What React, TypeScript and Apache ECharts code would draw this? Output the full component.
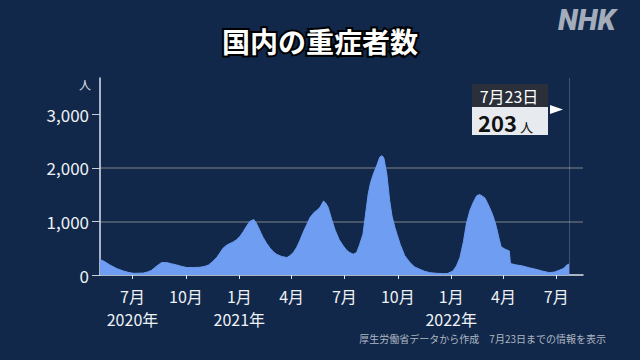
import React, { useEffect, useRef } from "react";
import * as echarts from "echarts";

const dates: string[] = [
  "2020-05-06","2020-05-13","2020-05-23","2020-06-04","2020-06-15","2020-06-25","2020-07-03","2020-07-12","2020-07-20","2020-07-28",
  "2020-08-03","2020-08-08","2020-08-12","2020-08-20","2020-08-29","2020-09-06","2020-09-15","2020-09-24","2020-10-03","2020-10-14",
  "2020-10-25","2020-11-02","2020-11-09","2020-11-16","2020-11-23","2020-11-29","2020-12-04","2020-12-10","2020-12-16","2020-12-22",
  "2020-12-27","2021-01-02","2021-01-08","2021-01-14","2021-01-19","2021-01-26","2021-01-30","2021-02-03","2021-02-07","2021-02-11",
  "2021-02-17","2021-02-23","2021-03-01","2021-03-06","2021-03-15","2021-03-24","2021-03-29","2021-04-04","2021-04-10","2021-04-15",
  "2021-04-22","2021-05-03","2021-05-10","2021-05-15","2021-05-20","2021-05-26","2021-05-30","2021-06-03","2021-06-09","2021-06-15",
  "2021-06-22","2021-06-29","2021-07-05","2021-07-10","2021-07-16","2021-07-22","2021-07-27","2021-08-02","2021-08-06","2021-08-11",
  "2021-08-15","2021-08-20","2021-08-26","2021-08-31","2021-09-04","2021-09-07","2021-09-12","2021-09-17","2021-09-21","2021-09-26",
  "2021-10-05","2021-10-13","2021-10-22","2021-10-30","2021-11-08","2021-11-16","2021-11-25","2021-12-06","2021-12-18","2021-12-26",
  "2022-01-04","2022-01-10","2022-01-16","2022-01-22","2022-01-27","2022-02-02","2022-02-08","2022-02-14","2022-02-19","2022-02-24",
  "2022-02-28","2022-03-05","2022-03-11","2022-03-16","2022-03-20","2022-03-24","2022-03-28","2022-04-04","2022-04-11","2022-04-13",
  "2022-04-22","2022-05-04","2022-05-15","2022-05-27","2022-06-08","2022-06-19","2022-06-28","2022-07-06","2022-07-13","2022-07-19",
  "2022-07-23"
];

const severeCases: number[] = [
  290,255,188,119,75,45,31,33,37,60,
  88,135,169,231,231,210,188,160,138,140,
  144,160,188,250,325,420,500,555,588,620,
  656,720,813,920,1000,1035,970,888,790,700,
  590,500,430,388,345,325,360,419,520,638,
  820,1075,1170,1210,1263,1380,1340,1263,1040,838,
  660,544,460,420,388,419,560,763,1100,1513,
  1720,1888,2050,2200,2225,2180,1888,1388,1100,888,
  575,360,231,150,106,70,44,32,25,30,
  75,170,325,620,950,1200,1356,1480,1500,1470,
  1438,1330,1188,1040,888,700,525,480,450,213,
  190,169,135,106,70,44,55,88,120,185,
  203
];

const tickDates: string[] = [
  "2020-07-01","2020-10-01","2021-01-01","2021-04-01","2021-07-01",
  "2021-10-01","2022-01-01","2022-04-01","2022-07-01"
];
const monthLabels: string[] = ["7月","10月","1月","4月","7月","10月","1月","4月","7月"];
const yearLabels: string[] = ["2020年","","2021年","","","","2022年","",""];
const yTicks: number[] = [0, 1000, 2000, 3000];

const axisStart = "2020-05-06";
const axisEnd = "2022-08-16";
const yMax = 3675;

const title = "国内の重症者数";
const unit = "人";
const footnote = "厚生労働省データから作成　7月23日までの情報を表示";

const ts = (s: string) => {
  const [y, m, d] = s.split("-").map(Number);
  return Date.UTC(y, m - 1, d);
};

const FONT = '"Noto Sans CJK JP", "Noto Sans", sans-serif';

export default function App() {
  const ref = useRef<HTMLDivElement>(null);

  useEffect(() => {
    if (!ref.current) return;
    const chart = echarts.init(ref.current, null, { renderer: "svg" });
    const tickTs = tickDates.map(ts);
    const lastDate = dates[dates.length - 1];
    const [, lm, ld] = lastDate.split("-").map(Number);
    const lastVal = severeCases[severeCases.length - 1];

    const option: any = {
      animation: false,
      backgroundColor: "#11284a",
      textStyle: { fontFamily: FONT },
      grid: { left: 100, right: 57, top: 78, bottom: 85 },
      xAxis: {
        type: "value",
        min: ts(axisStart),
        max: ts(axisEnd),
        axisLine: { show: true, lineStyle: { color: "#dde2ea", width: 1.5 } },
        axisTick: {
          show: true,
          customValues: tickTs,
          length: 4,
          lineStyle: { color: "#dde2ea", width: 1 },
        },
        axisLabel: {
          customValues: tickTs,
          margin: 9,
          color: "#eef1f6",
          fontSize: 16,
          fontFamily: FONT,
          lineHeight: 23,
          formatter: (v: number) => {
            const i = tickTs.indexOf(v);
            if (i < 0) return "";
            return yearLabels[i] ? monthLabels[i] + "\n" + yearLabels[i] : monthLabels[i];
          },
        },
        splitLine: { show: false },
      },
      yAxis: {
        type: "value",
        min: 0,
        max: yMax,
        interval: 1000,
        axisLine: { show: true, lineStyle: { color: "#dde2ea", width: 1.5 } },
        axisTick: {
          show: true,
          customValues: yTicks,
          length: 8,
          lineStyle: { color: "#c9ced8", width: 1 },
        },
        axisLabel: {
          customValues: yTicks,
          margin: 11,
          color: "#eef1f6",
          fontSize: 17,
          fontFamily: FONT,
          formatter: (v: number) => v.toLocaleString("en-US"),
        },
        splitLine: {
          show: true,
          showMinLine: false,
          showMaxLine: false,
          lineStyle: { color: "#5d6676", width: 1.5 },
        },
      },
      series: [
        {
          type: "line",
          data: dates.map((d, i) => [ts(d), severeCases[i]]),
          showSymbol: false,
          symbol: "none",
          lineStyle: { width: 1, color: "#6e9df2" },
          areaStyle: { color: "#6e9df2", opacity: 1 },
          z: 1,
          markLine: {
            silent: true,
            symbol: ["none", "none"],
            label: { show: false },
            lineStyle: { color: "rgba(170,185,210,0.3)", width: 1, type: "solid" },
            data: [{ xAxis: ts(lastDate) }],
          },
        },
      ],
      graphic: [
        {
          type: "text",
          left: 628 - 70,
          top: 5,
          style: {
            text: "NHK",
            fill: "#a3acba",
            font: 'italic 900 29px Roboto, "DejaVu Sans", sans-serif',
          },
        },
        {
          type: "text",
          x: 320,
          y: 41,
          style: {
            text: title,
            fill: "#ffffff",
            stroke: "#000000",
            lineWidth: 4,
            font: `bold 28px ${FONT}`,
            textAlign: "center",
            textVerticalAlign: "middle",
          },
        },
        {
          type: "text",
          x: 85,
          y: 84,
          style: {
            text: unit,
            fill: "#dfe3ea",
            font: `12px ${FONT}`,
            textAlign: "center",
            textVerticalAlign: "middle",
          },
        },
        {
          type: "rect",
          shape: { x: 472, y: 84, width: 76, height: 23 },
          style: { fill: "#2a2f39" },
        },
        {
          type: "rect",
          shape: { x: 472, y: 107, width: 76, height: 28 },
          style: { fill: "#e7eaef" },
        },
        {
          type: "text",
          x: 509,
          y: 96,
          style: {
            text: `${lm}月${ld}日`,
            fill: "#ffffff",
            font: `16px ${FONT}`,
            textAlign: "center",
            textVerticalAlign: "middle",
          },
        },
        {
          type: "text",
          x: 478,
          y: 122,
          style: {
            text: String(lastVal),
            fill: "#111111",
            font: `bold 22px ${FONT}`,
            textAlign: "left",
            textVerticalAlign: "middle",
          },
        },
        {
          type: "text",
          x: 520,
          y: 126,
          style: {
            text: unit,
            fill: "#111111",
            font: `13px ${FONT}`,
            textAlign: "left",
            textVerticalAlign: "middle",
          },
        },
        {
          type: "polygon",
          shape: { points: [[550, 105], [550, 114], [563, 109.5]] },
          style: { fill: "#ffffff" },
        },
        {
          type: "text",
          x: 606,
          y: 338,
          style: {
            text: footnote,
            fill: "#aeb6c3",
            font: `10px ${FONT}`,
            textAlign: "right",
            textVerticalAlign: "middle",
          },
        },
      ],
    };

    chart.setOption(option);
    return () => chart.dispose();
  }, []);

  return (
    <div
      ref={ref}
      style={{ position: "fixed", left: 0, top: 0, width: 640, height: 360 }}
    />
  );
}
